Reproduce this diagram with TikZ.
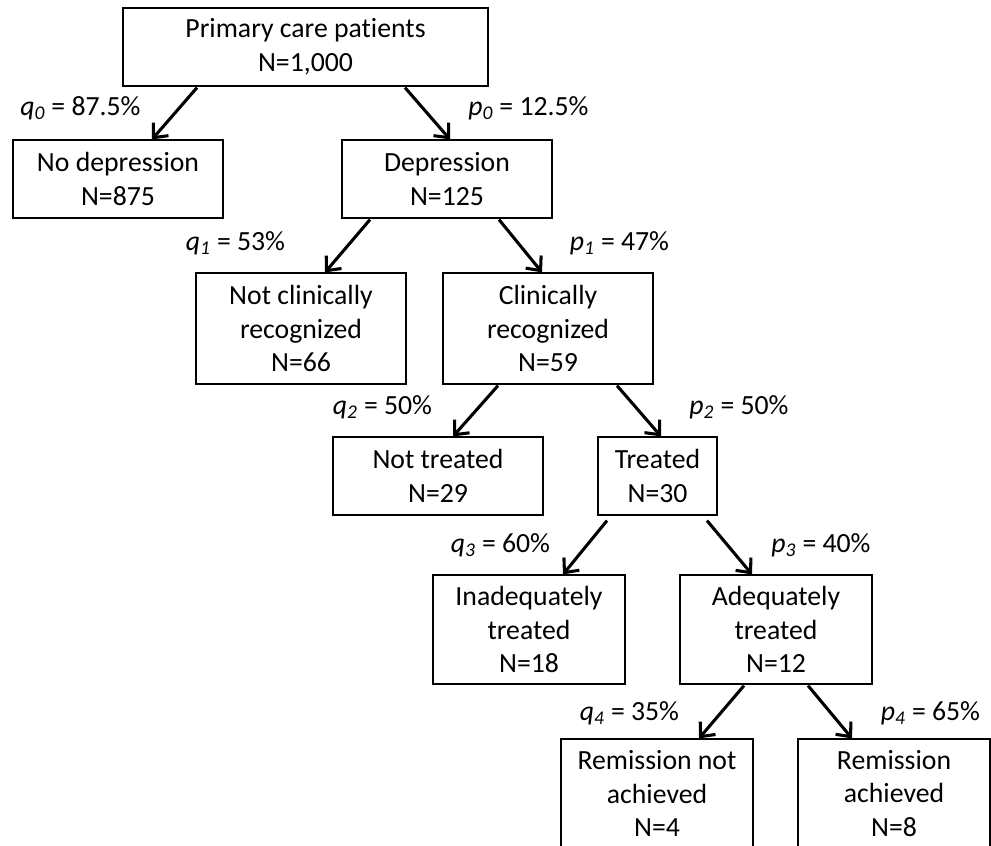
\documentclass[tikz,border=0pt]{standalone}
\usepackage{fontspec}
\setmainfont{Carlito}[Ligatures=NoCommon]
\usetikzlibrary{arrows.meta,calc}

\tikzset{
  box/.style 2 args={draw, line width=0.9pt, align=center, inner sep=0pt,
    minimum width=#1*0.75pt, minimum height=#2*0.75pt},
  prob/.style={inner sep=0pt},
  branch/.style={line width=2.3pt, -{Straight Barb[length=8.5pt,width=15pt,line width=2.3pt]}}
}

\begin{document}
\begin{tikzpicture}[x=0.75pt, y=-0.75pt, font=\fontsize{20.8}{25.2}\selectfont]
\useasboundingbox (0,0) rectangle (991,845);
\clip (0,0) rectangle (991,845);

% boxes
\node [box={365}{78}] (root) at (305.5,47) {Primary care patients\\N=1,000};
\node [box={210}{78}] (nodep) at (118,179) {No depression\\N=875};
\node [box={210}{78}] (dep) at (447,179) {Depression\\N=125};
\node [box={210}{111}] (notclin) at (301,328.5) {Not clinically\\recognized\\N=66};
\node [box={210}{111}] (clin) at (548,328.5) {Clinically\\recognized\\N=59};
\node [box={210}{78}] (nottr) at (438,476) {Not treated\\N=29};
\node [box={119}{78}] (tr) at (657.5,476) {Treated\\N=30};
\node [box={192}{109}] (inad) at (529,629.5) {Inadequately\\treated\\N=18};
\node [box={192}{109}] (adeq) at (776,629.5) {Adequately\\treated\\N=12};
\node [box={192}{109}] (remnot) at (657,793.5) {Remission not\\achieved\\N=4};
\node [box={192}{109}] (rem) at (894,793.5) {Remission\\achieved\\N=8};

% probabilities
\node [prob] (q0) at (80.5,108) {\textit{q\textsubscript{0}} = 87.5\%};
\node [prob] (p0) at (528.5,108) {\textit{p\textsubscript{0}} = 12.5\%};
\node [prob] (q1) at (235.5,243) {\textit{q\textsubscript{1}} = 53\%};
\node [prob] (p1) at (619.5,243) {\textit{p\textsubscript{1}} = 47\%};
\node [prob] (q2) at (382.5,407) {\textit{q\textsubscript{2}} = 50\%};
\node [prob] (p2) at (739,407) {\textit{p\textsubscript{2}} = 50\%};
\node [prob] (q3) at (500.5,545) {\textit{q\textsubscript{3}} = 60\%};
\node [prob] (p3) at (821,545) {\textit{p\textsubscript{3}} = 40\%};
\node [prob] (q4) at (629.5,713) {\textit{q\textsubscript{4}} = 35\%};
\node [prob] (p4) at (930.5,713) {\textit{p\textsubscript{4}} = 65\%};

% branches
\draw [branch] ($(root.south)+(-108.5,1)$) -- ($(nodep.north)+(34,0)$);
\draw [branch] ($(root.south)+(99.5,1)$) -- ($(dep.north)+(3,0)$);
\draw [branch] ($(dep.south)+(-77,1)$) -- ($(notclin.north)+(24,0)$);
\draw [branch] ($(dep.south)+(52,1)$) -- ($(clin.north)+(-6,0)$);
\draw [branch] ($(clin.south)+(-50,1)$) -- ($(nottr.north)+(15,0)$);
\draw [branch] ($(clin.south)+(69,1)$) -- ($(tr.north)+(3.5,0)$);
\draw [branch] ($(tr.south)+(-50.5,5)$) -- ($(inad.north)+(34,0)$);
\draw [branch] ($(tr.south)+(49.5,5)$) -- ($(adeq.north)+(-24,0)$);
\draw [branch] ($(adeq.south)+(-32,1)$) -- ($(remnot.north)+(42,0)$);
\draw [branch] ($(adeq.south)+(32,1)$) -- ($(rem.north)+(-42,0)$);
\end{tikzpicture}
\end{document}
